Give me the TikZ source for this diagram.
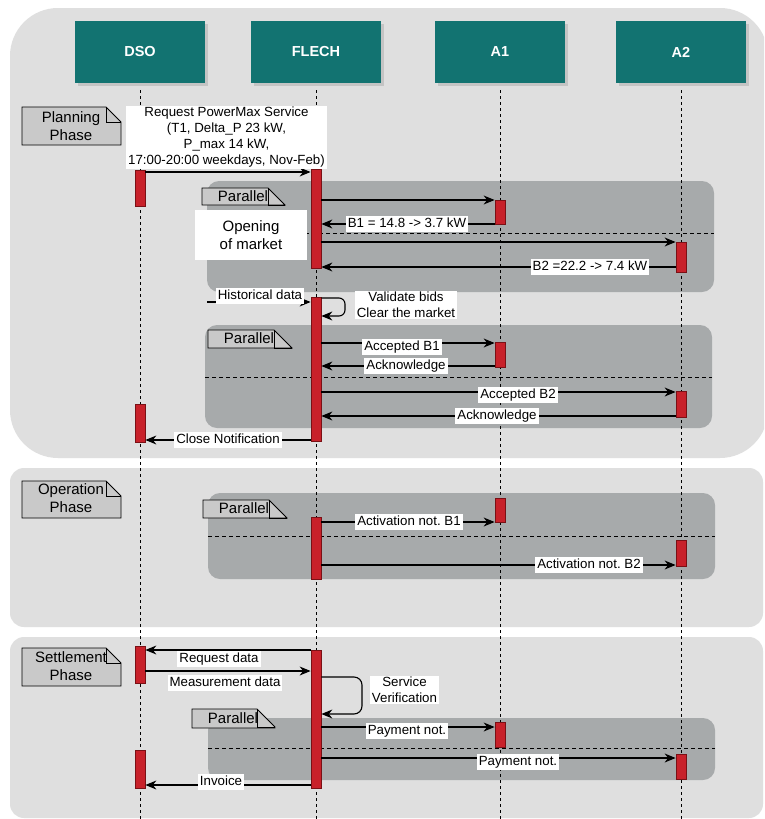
\documentclass[tikz,border=0pt]{standalone}
\usepackage{fontspec}
\setmainfont{Liberation Sans}
\usetikzlibrary{arrows.meta,positioning,shadows}
\frenchspacing

\definecolor{phasegray}{HTML}{DFDFDF}
\definecolor{pargray}{HTML}{A7AAAB}
\definecolor{notegray}{HTML}{C9C9C9}
\definecolor{headteal}{HTML}{127371}
\definecolor{headshadow}{HTML}{C4C4C4}
\definecolor{barred}{HTML}{C8212A}
\definecolor{barborder}{HTML}{7A1015}

\tikzset{
  head/.style={fill=headteal, text=white, font=\fontsize{14.5}{17}\selectfont\bfseries,
    minimum width=130pt, minimum height=62pt, inner sep=0pt,
    drop shadow={shadow xshift=3pt, shadow yshift=-3pt, fill=headshadow, opacity=1}},
  lifeline/.style={black, line width=0.9pt, dash pattern=on 3pt off 3pt},
  bar/.style={fill=barred, draw=barborder, line width=0.8pt, minimum width=10pt, inner sep=0pt},
  msg/.style={black, line width=1.1pt, -{Stealth[length=11pt,width=9pt]}},
  lbl/.style={fill=white, inner xsep=2pt, inner ysep=1pt, font=\fontsize{13.3}{16}\selectfont, align=center},
  lblone/.style={lbl, text height=10.5pt, text depth=3.5pt},
  note/.style={fill=notegray, draw=black, line width=0.8pt},
  notetxt/.style={font=\fontsize{15}{18}\selectfont, align=center, inner sep=0pt},
  parbox/.style={fill=pargray, rounded corners=12pt},
  sep/.style={black, line width=0.9pt, dash pattern=on 4pt off 3pt},
}

% note with folded corner: x1, y1, x2, y2, fold
\newcommand{\notebox}[5]{%
  \draw[note] (#1,#2) -- ({#3-#5},#2) -- (#3,{#2+#5}) -- (#3,#4) -- (#1,#4) -- cycle;
  \draw[note, fill=none] ({#3-#5},#2) -- ({#3-#5},{#2+#5}) -- (#3,{#2+#5});}

\begin{document}
\begin{tikzpicture}[x=1pt,y=-1pt]
\useasboundingbox (0,0) rectangle (764,819);
\fill[white] (0,0) rectangle (764,819);

% phases
\begin{scope}
\clip (0,0) rectangle (764,819);
\fill[phasegray, rounded corners=48pt] (10,8) rectangle (768,458);
\fill[phasegray, rounded corners=14pt] (10,468) rectangle (763,627);
\fill[phasegray, rounded corners=14pt] (10,637) rectangle (763,818);
\end{scope}

% parallel fragments
\fill[parbox] (207,181) rectangle (714,292);
\fill[parbox] (205,325) rectangle (712,428);
\fill[parbox] (208,493) rectangle (715,579);
\fill[parbox] (208,718) rectangle (715,780);
\draw[sep] (207,233) -- (714,233);
\draw[sep] (205,377) -- (712,377);
\draw[sep] (208,536) -- (715,536);
\draw[sep] (208,748) -- (715,748);

% lifelines
\node[head] (dso) at (140,52) {DSO};
\node[head] (flech) at (316,52) {FLECH};
\node[head] (a1) at (500,52) {A1};
\node[head] (a2) at (681,52) {A2};
\foreach \n in {dso,flech,a1,a2}
  \draw[lifeline] ([yshift=-7pt]\n.south) -- (\n.south |- 0,819);

% notes
\notebox{22}{107}{121}{145}{15}
\node[notetxt] (plan) at (71,126) {Planning\\Phase};
\notebox{22}{481}{121}{518}{15}
\node[notetxt] (oper) at (71,498) {Operation\\Phase};
\notebox{22}{648}{121}{686}{15}
\node[notetxt] (settle) at (71,666) {Settlement\\Phase};
\notebox{202}{188}{285}{205}{17}
\node[notetxt] (par1) at (243,196) {Parallel};
\notebox{208}{330}{292}{348}{18}
\node[notetxt] (par2) at (249,338) {Parallel};
\notebox{203}{500}{287}{518}{18}
\node[notetxt] (par3) at (244,508) {Parallel};
\notebox{192}{709}{275}{728}{18}
\node[notetxt] (par4) at (233,718) {Parallel};

% activations
\node[bar, minimum height=36pt] (dso1) at (140,188) {};
\node[bar, minimum height=99pt] (fl1) at (316,218.5) {};
\node[bar, minimum height=24pt] (a1A) at (500,212) {};
\node[bar, minimum height=30pt] (a2A) at (681,257) {};
\node[bar, minimum height=144pt] (fl2) at (316,369) {};
\node[bar, minimum height=25pt] (a1B) at (500,354.5) {};
\node[bar, minimum height=26pt] (a2B) at (681,404) {};
\node[bar, minimum height=38pt] (dso2) at (140,423) {};
\node[bar, minimum height=24pt] (a1C) at (500,510) {};
\node[bar, minimum height=62pt] (fl3) at (316,548) {};
\node[bar, minimum height=26pt] (a2C) at (681,553) {};
\node[bar, minimum height=37pt] (dso3) at (140,664.5) {};
\node[bar, minimum height=138pt] (fl4) at (316,719) {};
\node[bar, minimum height=38pt] (dso4) at (140,769) {};
\node[bar, minimum height=25pt] (a1D) at (500,734.5) {};
\node[bar, minimum height=25pt] (a2D) at (681,766.5) {};

% planning messages
\draw[msg] (dso1.east |- 0,172) -- (fl1.west |- 0,172);
\node[lbl] (req) at (226.5,137.5) {Request PowerMax Service\\(T1, Delta\_P 23 kW,\\P\_max 14 kW,\\17:00-20:00 weekdays, Nov-Feb)};
\draw[msg] (fl1.east |- 0,200) -- (a1A.west |- 0,200);
\draw[msg] (a1A.west |- 0,224) -- (fl1.east |- 0,224);
\node[lblone] (bid1) at (407,224) {B1 = 14.8 -> 3.7 kW};
\draw[msg] (fl1.east |- 0,242) -- (a2A.west |- 0,242);
\draw[msg] (a2A.west |- 0,267) -- (fl1.east |- 0,267);
\node[lblone] (bid2) at (590,267) {B2 =22.2 -> 7.4 kW};
\node[lbl, minimum width=112pt, minimum height=50pt, font=\fontsize{15}{18}\selectfont] (open) at (251,235) {Opening\\of market};

\coordinate (histsrc) at (207,302);
\draw[msg] (histsrc) -- (fl2.west |- histsrc);
\node[lblone] (hist) at (260,295.5) {Historical data};
\draw[msg, rounded corners=6pt] (fl2.east |- 0,298) -- (345,298) -- (345,316) -- (fl2.east |- 0,316);
\node[lbl] (valid) at (406,305) {Validate bids\\Clear the market};

\draw[msg] (fl2.east |- 0,343) -- (a1B.west |- 0,343);
\node[lblone] (acc1) at (402,347) {Accepted B1};
\draw[msg] (a1B.west |- 0,366) -- (fl2.east |- 0,366);
\node[lblone] (ack1) at (406,366) {Acknowledge};
\draw[msg] (fl2.east |- 0,392) -- (a2B.west |- 0,392);
\node[lblone] (acc2) at (518,395) {Accepted B2};
\draw[msg] (a2B.west |- 0,416) -- (fl2.east |- 0,416);
\node[lblone] (ack2) at (497,416) {Acknowledge};
\draw[msg] (fl2.west |- 0,440) -- (dso2.east |- 0,440);
\node[lblone] (close) at (228,440) {Close Notification};

% operation messages
\draw[msg] (fl3.east |- 0,522) -- (a1C.west |- 0,522);
\node[lblone] (act1) at (409,522) {Activation not. B1};
\draw[msg] (fl3.east |- 0,565) -- (a2C.west |- 0,565);
\node[lblone] (act2) at (589,565) {Activation not. B2};

% settlement messages
\draw[msg] (fl4.west |- 0,650) -- (dso3.east |- 0,650);
\node[lblone] (reqd) at (219,659) {Request data};
\draw[msg] (dso3.east |- 0,671) -- (fl4.west |- 0,671);
\node[lblone] (meas) at (225,683) {Measurement data};
\draw[msg, rounded corners=8pt] (fl4.east |- 0,677) -- (362,677) -- (362,714) -- (fl4.east |- 0,714);
\node[lbl] (verif) at (404.5,690) {Service\\Verification};
\draw[msg] (fl4.east |- 0,727) -- (a1D.west |- 0,727);
\node[lblone] (pay1) at (407,731) {Payment not.};
\draw[msg] (fl4.east |- 0,758) -- (a2D.west |- 0,758);
\node[lblone] (pay2) at (518,762) {Payment not.};
\draw[msg] (fl4.west |- 0,785) -- (dso4.east |- 0,785);
\node[lblone] (inv) at (221,782) {Invoice};

\end{tikzpicture}
\end{document}
